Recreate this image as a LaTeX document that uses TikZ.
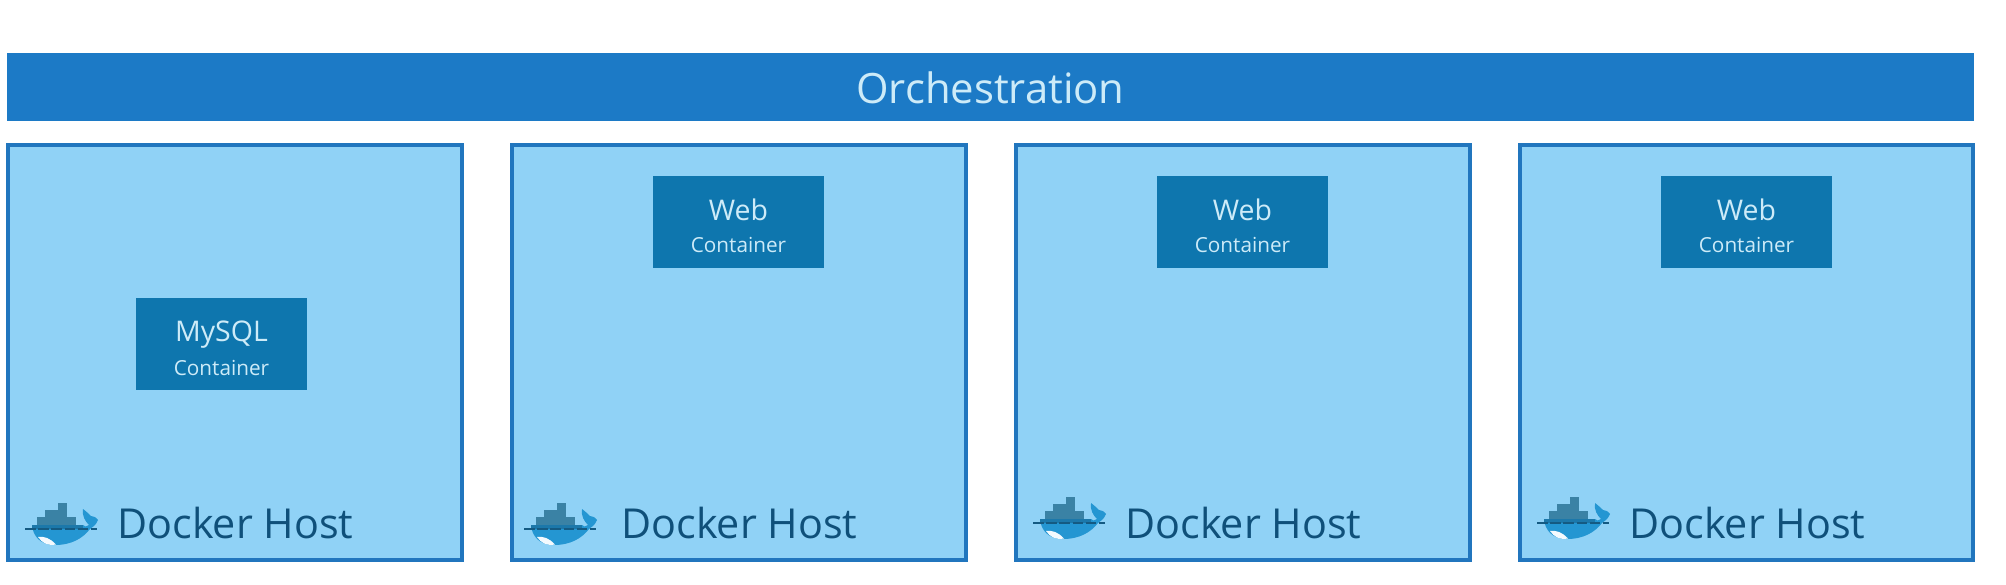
\documentclass[tikz,border=0pt]{standalone}
\usepackage{fontspec}
\setmainfont{Open Sans}
\definecolor{barblue}{RGB}{28,122,198}
\definecolor{hostblue}{RGB}{144,210,246}
\definecolor{hostedge}{RGB}{33,118,190}
\definecolor{contblue}{RGB}{14,118,174}
\definecolor{contlight}{RGB}{205,235,248}
\definecolor{hosttext}{RGB}{15,80,122}
\definecolor{whaleblue}{RGB}{36,150,210}
\definecolor{whaledark}{RGB}{58,130,165}
\definecolor{whaleink}{RGB}{20,90,130}
\newcommand{\contname}[1]{\rule{0pt}{16.5pt}{\fontsize{16.2}{18}\selectfont #1}\\[6pt]{\fontsize{11.8}{14}\selectfont Container}}
\usetikzlibrary{positioning}

\begin{document}
\begin{tikzpicture}[x=0.02cm,y=-0.02cm,
  barbox/.style={fill=barblue,text=contlight,minimum width=39.34cm,minimum height=1.36cm,text height=19.5pt,font=\fontsize{23.8}{26}\selectfont},
  hostbox/.style={draw=hostedge,line width=2.27pt,fill=hostblue,minimum width=9.08cm,minimum height=8.3cm},
  contbox/.style={fill=contblue,text=contlight,minimum width=3.42cm,minimum height=1.84cm,align=center,inner sep=0pt},
  hostlabel/.style={anchor=west,inner sep=0pt,text=hosttext,font=\fontsize{23.5}{28}\selectfont},
  whale/.pic={
    % containers
    \fill[whaledark] (7,-11) rectangle (46,-3);
    \fill[whaledark] (15,-18) rectangle (37,-11);
    \fill[whaledark] (28,-25) rectangle (37,-18);
    % hull
    \fill[whaleblue] (2,-3) -- (53,-3) .. controls (54,-1) and (57,-1) .. (59,-3)
      .. controls (55,-7) and (52,-12) .. (53,-19) .. controls (57,-16) and (60,-13) .. (61,-12)
      .. controls (63,-12) and (66,-11) .. (68,-8) .. controls (66,-3) and (63,-1) .. (60,1)
      .. controls (53,10) and (42,17) .. (25,17) .. controls (10,17) and (3,8) .. (2,-3) -- cycle;
    % band under the deck
    \fill[whaleink!50!whaleblue] (2,-3) rectangle (53,1);
    % belly
    \fill[white!90!hostblue] (8,9) .. controls (14,8) and (20,10) .. (26,16.5) .. controls (18,18) and (12,15) .. (8,9) -- cycle;
    % water line
    \draw[whaleink,line width=0.6pt,dash pattern=on 6pt off 1.5pt] (-5,1) -- (67,1);
  }
]
  % Orchestration
  \node[barbox] (orch) at (990.5,87) {Orchestration};

  % Hosts
  \node[hostbox] (host1) at (235,352.5) {};
  \node[hostbox] (host2) at (739,352.5) {};
  \node[hostbox] (host3) at (1243,352.5) {};
  \node[hostbox] (host4) at (1746.5,352.5) {};

  % Containers
  \node[contbox] (mysql) at (221.5,344) {\contname{MySQL}};
  \node[contbox] (web2) at (738.5,222) {\contname{Web}};
  \node[contbox] (web3) at (1242.5,222) {\contname{Web}};
  \node[contbox] (web4) at (1746.5,222) {\contname{Web}};

  % Whales
  \pic at (30,528) {whale};
  \pic at (529,528) {whale};
  \pic at (1038,522) {whale};
  \pic at (1542,522) {whale};

  % Labels
  \node[hostlabel] (label1) at (117,523) {Docker Host};
  \node[hostlabel] (label2) at (621,523) {Docker Host};
  \node[hostlabel] (label3) at (1125,523) {Docker Host};
  \node[hostlabel] (label4) at (1629,523) {Docker Host};

  \useasboundingbox (0,0) rectangle (2006,585);
\end{tikzpicture}
\end{document}
